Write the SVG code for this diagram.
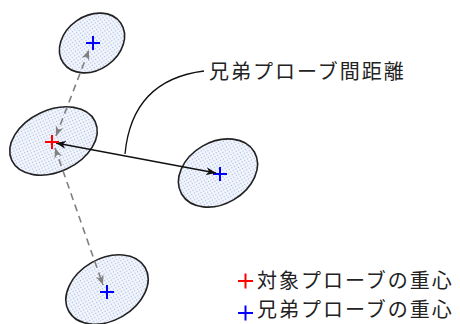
<svg xmlns="http://www.w3.org/2000/svg" width="460" height="324" viewBox="0 0 460 324">
  <style>
    .blob { fill: url(#dots); stroke: #222; stroke-width: 1.6; }
    .dash { stroke: #808080; stroke-width: 1.6; stroke-dasharray: 7 5; fill: none; }
    .dist { stroke: #111; stroke-width: 1.5; fill: none; }
    .call { stroke: #111; stroke-width: 1.3; fill: none; }
    .pr { stroke: #ff0000; stroke-width: 2; fill: none; }
    .pb { stroke: #0000ff; stroke-width: 2; fill: none; }
    .lbl { font-family: "Noto Sans CJK JP", "Noto Sans", sans-serif; font-size: 20px; fill: #222; letter-spacing: 2px; }
  </style>
  <defs>
    <pattern id="dots" width="3" height="3" patternUnits="userSpaceOnUse">
      <rect width="3" height="3" fill="#f3f6fc"/>
      <circle cx="1.5" cy="1.5" r="0.7" fill="#a6b9e2"/>
    </pattern>
    <marker id="ag" viewBox="0 0 10 8" refX="10" refY="4" markerWidth="10" markerHeight="8" markerUnits="userSpaceOnUse" orient="auto-start-reverse">
      <path d="M0,0 L10,4 L0,8 L3,4 z" fill="#808080"/>
    </marker>
    <marker id="ab" viewBox="0 0 10 8" refX="10" refY="4" markerWidth="10" markerHeight="8" markerUnits="userSpaceOnUse" orient="auto-start-reverse">
      <path d="M0,0 L10,4 L0,8 L3,4 z" fill="#111"/>
    </marker>
  </defs>

  <g id="probe-top">
    <ellipse class="blob" cx="92" cy="43" rx="35" ry="27" transform="rotate(-35 92 43)"/>
    <path class="pb" d="M86,43 H100 M93,36 V50"/>
  </g>
  <g id="probe-target">
    <ellipse class="blob" cx="53.5" cy="141" rx="46" ry="31" transform="rotate(-25 53.5 141)"/>
  </g>
  <g id="probe-right">
    <ellipse class="blob" cx="218" cy="173" rx="42" ry="31" transform="rotate(-30 218 173)"/>
    <path class="pb" d="M213,174 H227 M220,167 V181"/>
  </g>
  <g id="probe-bottom">
    <ellipse class="blob" cx="107" cy="289.5" rx="44" ry="31" transform="rotate(-30 107 289.5)"/>
    <path class="pb" d="M100,292 H114 M107,285 V299"/>
  </g>

  <g id="connectors">
    <line class="dash" x1="56" y1="136" x2="89" y2="50" marker-start="url(#ag)" marker-end="url(#ag)"/>
    <line class="dash" x1="55" y1="148" x2="103" y2="285" marker-start="url(#ag)" marker-end="url(#ag)"/>
    <line class="dist" x1="56" y1="143" x2="216" y2="173" marker-start="url(#ab)" marker-end="url(#ab)"/>
    <path class="call" d="M125,154 Q132,80 204,71"/>
  </g>

  <g id="target-centroid">
    <path class="pr" d="M45,142 H59 M52,135 V149"/>
  </g>

  <g id="label">
    <text class="lbl" x="209" y="79">兄弟プローブ間距離</text>
  </g>

  <g id="legend">
    <path class="pr" d="M238,281 H253 M245.5,273.5 V288.5"/>
    <text class="lbl" x="257" y="288">対象プローブの重心</text>
    <path class="pb" d="M238,313 H253 M245.5,305.5 V320.5"/>
    <text class="lbl" x="257" y="317">兄弟プローブの重心</text>
  </g>
</svg>
